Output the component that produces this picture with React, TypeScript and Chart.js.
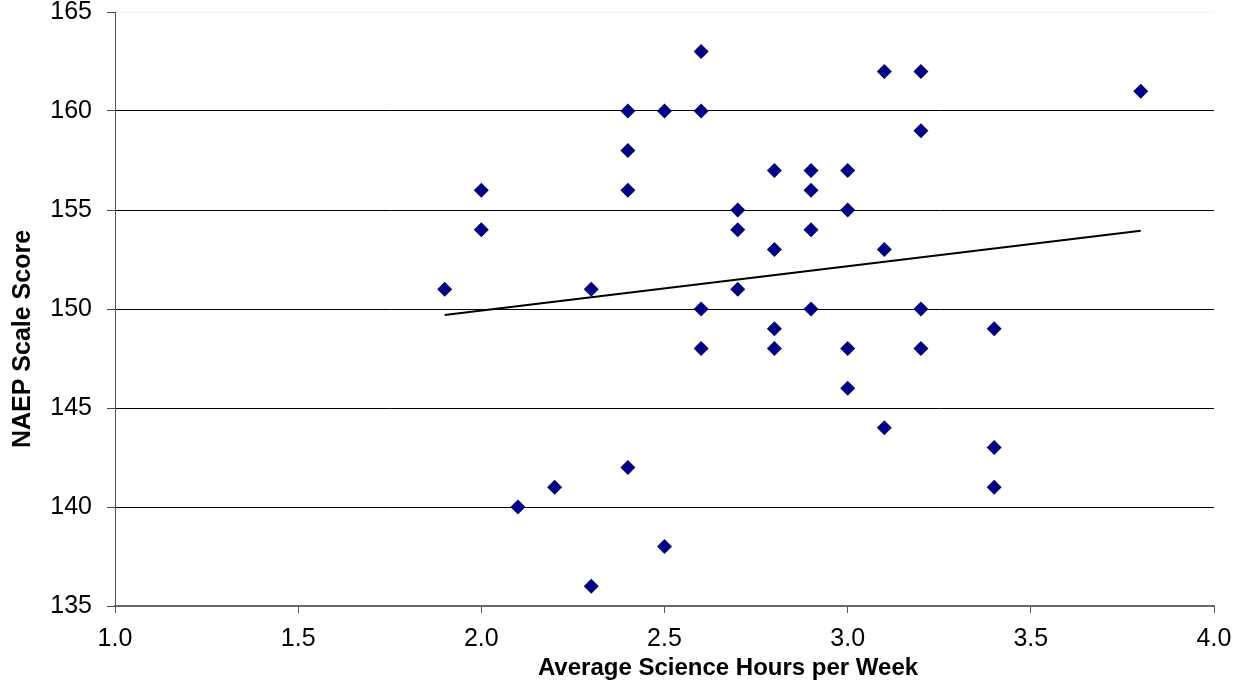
import React, { useEffect, useRef } from "react";
import { Chart, registerables } from "chart.js";

Chart.register(...registerables);

const xTitle = "Average Science Hours per Week";
const yTitle = "NAEP Scale Score";

const hours = [
  1.9, 2.0, 2.0, 2.1, 2.2, 2.3, 2.3,
  2.4, 2.4, 2.4, 2.4, 2.5, 2.5,
  2.6, 2.6, 2.6, 2.6, 2.7, 2.7, 2.7,
  2.8, 2.8, 2.8, 2.8, 2.9, 2.9, 2.9, 2.9,
  3.0, 3.0, 3.0, 3.0, 3.1, 3.1, 3.1,
  3.2, 3.2, 3.2, 3.2, 3.4, 3.4, 3.4, 3.8,
];
const scores = [
  151, 156, 154, 140, 141, 151, 136,
  160, 158, 156, 142, 160, 138,
  163, 160, 150, 148, 155, 154, 151,
  157, 153, 149, 148, 157, 156, 154, 150,
  157, 155, 148, 146, 162, 153, 144,
  162, 159, 150, 148, 149, 143, 141, 161,
];

const trendX = [1.9, 3.8];
const trendY = [149.7, 153.95];

const xMin = 1.0;
const xMax = 4.0;
const xStep = 0.5;
const yMin = 135;
const yMax = 165;
const yStep = 5;

const FONT = "'Liberation Sans', Arial, sans-serif";

const titlePlugin = {
  id: "customTitles",
  afterDraw(chart: any) {
    const ctx = chart.ctx;
    ctx.save();
    ctx.fillStyle = "#000";
    ctx.textAlign = "center";
    ctx.textBaseline = "alphabetic";
    ctx.font = `bold 24px ${FONT}`;
    ctx.fillText(xTitle, 728, 675);
    ctx.font = `bold 25px ${FONT}`;
    ctx.translate(30, 339);
    ctx.rotate(-Math.PI / 2);
    ctx.fillText(yTitle, 0, 0);
    ctx.restore();
  },
};

export default function App() {
  const ref = useRef<HTMLCanvasElement | null>(null);

  useEffect(() => {
    if (!ref.current) return;
    const points = hours.map((h, i) => ({ x: h, y: scores[i] }));
    const trend = trendX.map((h, i) => ({ x: h, y: trendY[i] }));
    const chart = new Chart(ref.current, {
      type: "scatter",
      data: {
        datasets: [
          {
            type: "line",
            label: "Trend",
            data: trend,
            borderColor: "#000",
            borderWidth: 2,
            pointRadius: 0,
            fill: false,
            order: 0,
          } as any,
          {
            label: "Scores",
            data: points,
            pointStyle: "rectRot",
            pointRadius: 7.5,
            pointHoverRadius: 7.5,
            backgroundColor: "#000080",
            borderColor: "#000080",
            borderWidth: 0,
            order: 1,
          },
        ],
      },
      options: {
        responsive: false,
        animation: false,
        layout: { padding: { top: 0, right: 24, left: 0, bottom: 0 } },
        plugins: {
          legend: { display: false },
          tooltip: { enabled: false },
          title: { display: false },
        },
        scales: {
          x: {
            type: "linear",
            min: xMin,
            max: xMax,
            afterFit: (s: any) => {
              s.height = 77;
              s.paddingLeft = 0;
              s.paddingRight = 0;
            },
            ticks: {
              stepSize: xStep,
              color: "#000",
              font: { family: FONT, size: 25 },
              padding: 11,
              maxRotation: 0,
              callback: (v: any) => Number(v).toFixed(1),
            },
            grid: {
              drawOnChartArea: false,
              drawTicks: true,
              tickLength: 7,
              tickColor: "#555",
            },
            border: { display: true, color: "#666", width: 2 },
          },
          y: {
            type: "linear",
            min: yMin,
            max: yMax,
            afterFit: (s: any) => {
              s.width = 115;
              s.paddingTop = 12;
              s.paddingBottom = 0;
            },
            ticks: {
              stepSize: yStep,
              color: "#000",
              font: { family: FONT, size: 25 },
              padding: 15,
            },
            grid: {
              drawOnChartArea: true,
              drawTicks: true,
              tickLength: 8,
              tickColor: "#444",
              color: (c: any) =>
                c.tick && c.tick.value === yMax ? "rgba(0,0,0,0.04)" : "#000",
              lineWidth: 1,
            },
            border: { display: true, color: "#555", width: 1 },
          },
        },
      },
      plugins: [titlePlugin],
    });
    return () => chart.destroy();
  }, []);

  return (
    <div style={{ position: "fixed", left: 0, top: 0, width: 1238, height: 683, background: "#fff" }}>
      <canvas ref={ref} width={1238} height={683} />
    </div>
  );
}
